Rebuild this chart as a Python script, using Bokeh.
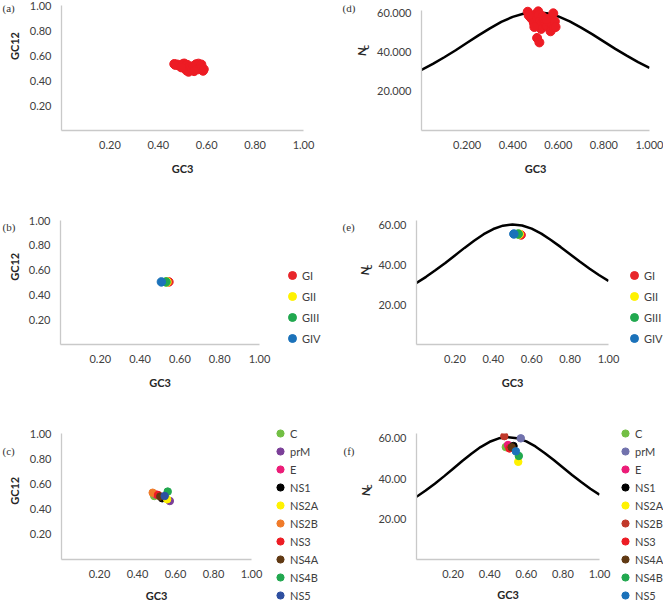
import math
from bokeh.plotting import figure
from bokeh.layouts import column, row
from bokeh.models import (Range1d, FixedTicker, NumeralTickFormatter, Legend, LegendItem,
                          Label, Spacer)
from bokeh.embed import file_html
from bokeh.resources import INLINE

# ---------------- data ----------------
# (a)/(d): individual genomes
genome_gc3 = [0.466, 0.478, 0.485, 0.493, 0.500, 0.507, 0.507, 0.512, 0.515, 0.517,
              0.520, 0.522, 0.525, 0.530, 0.536, 0.540, 0.545, 0.551, 0.556, 0.560,
              0.566, 0.566, 0.572, 0.578, 0.580, 0.585, 0.588, 0.470, 0.495, 0.548]
genome_gc12 = [0.532, 0.528, 0.520, 0.512, 0.530, 0.536, 0.500, 0.520, 0.505, 0.480,
               0.525, 0.498, 0.470, 0.512, 0.505, 0.490, 0.515, 0.500, 0.530, 0.520,
               0.535, 0.490, 0.505, 0.528, 0.500, 0.478, 0.490, 0.525, 0.505, 0.475]
genome_nc = [60.8, 58.0, 57.0, 55.0, 59.5, 57.3, 47.4, 61.0, 59.0, 45.1,
             56.0, 54.2, 52.0, 58.5, 56.5, 55.0, 53.8, 53.5, 57.0, 55.5,
             57.3, 50.8, 54.5, 60.0, 52.7, 55.8, 53.0, 59.0, 53.0, 56.8]

# (b)/(e): genotypes
genotypes = ["GI", "GII", "GIII", "GIV"]
genotype_gc3 = [0.545, 0.535, 0.530, 0.507]
genotype_gc12 = [0.505, 0.505, 0.505, 0.505]
genotype_nc = [55.2, 55.6, 55.7, 55.7]
genotype_colors = ["#e8262b", "#fff200", "#21a84f", "#1b72ba"]

# (c)/(f): genes
genes = ["C", "prM", "E", "NS1", "NS2A", "NS2B", "NS3", "NS4A", "NS4B", "NS5"]
gene_gc3 = [0.488, 0.570, 0.500, 0.530, 0.556, 0.480, 0.508, 0.520, 0.559, 0.543]
gene_gc12 = [0.504, 0.464, 0.515, 0.486, 0.478, 0.530, 0.512, 0.500, 0.539, 0.504]
gene_nc = [55.6, 59.9, 56.6, 56.1, 48.3, 61.0, 54.9, 55.5, 51.2, 53.5]
gene_colors_c = ["#72bf44", "#7b3f98", "#ec1c78", "#000000", "#fff200",
                 "#f07b2a", "#ed1c24", "#603913", "#21a84f", "#2e4fa0"]
gene_colors_f = ["#72bf44", "#7172ad", "#ec1c78", "#000000", "#fff200",
                 "#c1392b", "#ed1c24", "#603913", "#21a84f", "#1b72ba"]

# expected Nc curve (values read along GC3)
curve_gc3 = [0.00, 0.05, 0.10, 0.15, 0.20, 0.25, 0.30, 0.35, 0.40, 0.45, 0.50,
             0.55, 0.60, 0.65, 0.70, 0.75, 0.80, 0.85, 0.90, 0.95, 1.00]
curve_nc = [31.0, 34.1, 37.5, 41.1, 44.9, 48.7, 52.3, 55.6, 58.2, 59.9, 60.5,
            60.0, 58.4, 55.9, 52.7, 49.2, 45.5, 41.8, 38.3, 35.0, 32.0]

gc_ticks = [0.2, 0.4, 0.6, 0.8, 1.0]
nc_ticks = [20, 40, 60]

# ---------------- styling ----------------
FONT = "Lato"
TICK_COLOR = "#404040"
TITLE_COLOR = "#262626"
AXIS_COLOR = "#c9c9c9"


def bare(W, H, xr, yr):
    f = figure(width=W, height=H, x_range=xr, y_range=yr, x_axis_type=None, y_axis_type=None,
               output_backend="svg", toolbar_location=None, tools="",
               min_border_left=0, min_border_right=0, min_border_top=0, min_border_bottom=0)
    f.outline_line_color = None
    f.background_fill_color = "white"
    f.border_fill_color = "white"
    f.grid.visible = False
    return f


def panel(W, H, left, top, fw, fh, ymax, yticks, yfmt, xfmt, xstand=10, ybound=None):
    p = figure(width=W, height=H, x_range=Range1d(0, 1), y_range=Range1d(0, ymax),
               output_backend="svg", toolbar_location=None, tools="",
               min_border_left=left, min_border_top=top,
               min_border_right=W - left - fw, min_border_bottom=H - top - fh)
    p.outline_line_color = None
    p.background_fill_color = "white"
    p.border_fill_color = "white"
    p.grid.visible = False
    for ax in (p.xaxis[0], p.yaxis[0]):
        ax.axis_line_color = AXIS_COLOR
        ax.axis_line_width = 1.3
        ax.major_tick_line_color = None
        ax.minor_tick_line_color = None
        ax.major_tick_out = 0
        ax.major_tick_in = 0
        ax.minor_tick_out = 0
        ax.major_label_text_font = FONT
        ax.major_label_text_font_size = "11px"
        ax.major_label_text_color = TICK_COLOR
        ax.major_label_standoff = 10
        ax.axis_label_text_font = FONT
        ax.axis_label_text_font_size = "11px"
        ax.axis_label_text_font_style = "bold"
        ax.axis_label_text_color = TITLE_COLOR
    p.xaxis.axis_label_standoff = xstand
    p.xaxis.ticker = FixedTicker(ticks=gc_ticks)
    p.xaxis.formatter = NumeralTickFormatter(format=xfmt)
    p.xaxis.axis_label = "GC3"
    p.yaxis.ticker = FixedTicker(ticks=yticks)
    p.yaxis.formatter = NumeralTickFormatter(format=yfmt)
    if ybound is not None:
        p.yaxis.bounds = (0, ybound)
    return p


def strip(W, H, tag, tag_x, tag_y, title, tx, ty, cx=None, cy=None):
    # narrow canvas left of a panel: panel letter and rotated y-axis title
    s = bare(W, H, Range1d(0, W), Range1d(H, 0))
    s.add_layout(Label(x=tag_x, y=tag_y, text=tag, text_font="Liberation Serif",
                       text_font_size="11px", text_color="#333333",
                       text_align="left", text_baseline="middle"))
    if title == "GC12":
        s.add_layout(Label(x=tx, y=ty, text="GC12", angle=math.pi / 2, text_font=FONT,
                           text_font_size="11px", text_font_style="bold",
                           text_color=TITLE_COLOR, text_align="center",
                           text_baseline="middle"))
    else:  # N with subscript c
        s.add_layout(Label(x=tx, y=ty, text="N", angle=math.pi / 2, text_font=FONT,
                           text_font_size="12px", text_font_style="bold italic",
                           text_color=TITLE_COLOR, text_align="center",
                           text_baseline="middle"))
        s.add_layout(Label(x=cx, y=cy, text="c", angle=math.pi / 2,
                           text_font=FONT, text_font_size="10px", text_font_style="bold",
                           text_color=TITLE_COLOR, text_align="center",
                           text_baseline="middle"))
    return s


def legend_block(W, H, top, names, xs, ys, colors, size, spacing, gh):
    lf = bare(W, H - top, Range1d(-3, -2), Range1d(-3, -2))
    items = []
    for n, gx, gy, c in zip(names, xs, ys, colors):
        r = lf.scatter([gx], [gy], size=size, color=c)
        items.append(LegendItem(label=n, renderers=[r]))
    lg = Legend(items=items, location="top_left", orientation="vertical",
                border_line_color=None, background_fill_alpha=0, padding=0, margin=0,
                spacing=spacing, glyph_width=20, glyph_height=gh, label_height=gh,
                label_standoff=-5, label_text_font=FONT, label_text_font_size="11px",
                label_text_color=TICK_COLOR)
    lf.add_layout(lg)
    return column(Spacer(width=W, height=top), lf)


# ---- row 1 (height 208) ----
sa = strip(22, 208, "(a)", 2, 4.5, "GC12", 14, 67.5)
pa = panel(316, 208, 39, 5, 242, 125, 1.0, gc_ticks, "0.00", "0.00")
pa.scatter(genome_gc3, genome_gc12, size=9, color="#ed1c24")

sd = strip(36, 208, "(d)", 4, 4.5, "Nc", 23, 77, 26, 69.5)
pd = panel(289, 208, 47, 0, 228, 140, 64, nc_ticks, "0.000", "0.000", ybound=61.6)
pd.line(curve_gc3, curve_nc, line_color="black", line_width=2.5)
pd.scatter(genome_gc3, genome_nc, size=9, color="#ed1c24")

# ---- row 2 (height 198) ----
sb = strip(22, 198, "(b)", 2, 11, "GC12", 14, 74)
pb = panel(260, 198, 38, 12, 199, 124, 1.0, gc_ticks, "0.00", "0.00")
for gx, gy, col in zip(genotype_gc3, genotype_gc12, genotype_colors):
    pb.scatter([gx], [gy], size=8.5, color=col)
lb = legend_block(56, 198, 57, genotypes, genotype_gc3, genotype_gc12, genotype_colors, 8.5, 1, 20)

se = strip(36, 198, "(e)", 4, 11, "Nc", 26, 80.5, 29, 74.5)
pe = panel(250, 198, 42, 12, 192, 124, 62.5, nc_ticks, "0.00", "0.00")
pe.line(curve_gc3, curve_nc, line_color="black", line_width=2.5)
for gx, gy, col in zip(genotype_gc3, genotype_nc, genotype_colors):
    pe.scatter([gx], [gy], size=8.5, color=col)
le = legend_block(39, 198, 57, genotypes, genotype_gc3, genotype_nc, genotype_colors, 8.5, 1, 20)

# ---- row 3 (height 198) ----
sc = strip(22, 198, "(c)", 2, 27, "GC12", 14, 90)
pc = panel(248, 198, 39, 27, 190, 126, 1.0, gc_ticks, "0.00", "0.00", xstand=8)
for gx, gy, col in zip(gene_gc3, gene_gc12, gene_colors_c):
    pc.scatter([gx], [gy], size=7.5, color=col)
lc = legend_block(68, 198, 18, genes, gene_gc3, gene_gc12, gene_colors_c, 7.5, 0, 18)

sf = strip(36, 198, "(f)", 5, 27, "Nc", 26.5, 91.5, 29.5, 84)
pf = panel(241, 198, 42, 26, 183, 128, 62.3, nc_ticks, "0.00", "0.00", xstand=7)
pf.line(curve_gc3, curve_nc, line_color="black", line_width=2.5)
for gx, gy, col in zip(gene_gc3, gene_nc, gene_colors_f):
    pf.scatter([gx], [gy], size=7.5, color=col)
lf_ = legend_block(48, 198, 18, genes, gene_gc3, gene_nc, gene_colors_f, 7.5, 0, 18)

layout = column(row(sa, pa, sd, pd),
                row(sb, pb, lb, se, pe, le),
                row(sc, pc, lc, sf, pf, lf_))
open("out.html", "w").write(file_html(layout, INLINE))
